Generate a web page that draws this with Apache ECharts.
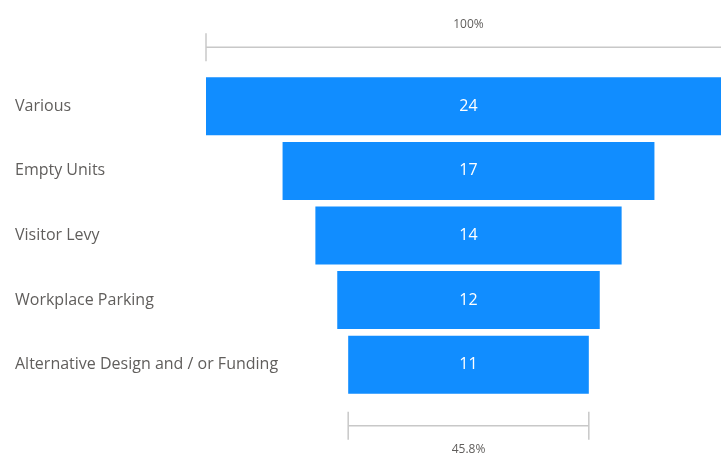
<!DOCTYPE html>
<html>
<head>
<meta charset="utf-8">
<script src="https://cdn.jsdelivr.net/npm/echarts@6/dist/echarts.min.js"></script>
<style>
  html, body { margin: 0; padding: 0; background: #fff; }
  #chart { width: 721px; height: 455px; }
</style>
</head>
<body>
<div id="chart"></div>
<script>
const categories = ['Various', 'Empty Units', 'Visitor Levy', 'Workplace Parking', 'Alternative Design and / or Funding']
const counts = [24, 17, 14, 12, 11]

const maxCount = Math.max(...counts)
const lastCount = counts[counts.length - 1]
// transparent spacer so every bar sits centred on the funnel axis
const spacer = counts.map(v => (maxCount - v) / 2)

const textColor = '#605E5C'
const lineColor = '#C8C8C8'
const font = '"Open Sans", "DejaVu Sans", sans-serif'

// the widest bar runs ~10px past the right edge of the canvas
const gridWidth = 515
const funnelWidth = 525

const chart = echarts.init(document.getElementById('chart'))

chart.setOption({
  animation: false,
  grid: {
    left: 206,
    top: 74,
    width: gridWidth,
    height: 323
  },
  xAxis: {
    type: 'value',
    min: 0,
    max: maxCount * gridWidth / funnelWidth,
    show: false
  },
  yAxis: {
    type: 'category',
    data: categories,
    inverse: true,
    axisLine: { show: false },
    axisTick: { show: false },
    splitLine: { show: false },
    axisLabel: {
      align: 'left',
      margin: 191,
      color: textColor,
      fontSize: 16,
      fontFamily: font
    }
  },
  series: [{
    type: 'bar',
    stack: 'funnel',
    data: spacer,
    barWidth: 58,
    silent: true,
    itemStyle: { color: 'transparent' }
  }, {
    type: 'bar',
    stack: 'funnel',
    data: counts,
    barWidth: 58,
    clip: false, // keep the label centred on the full (unclipped) top bar
    itemStyle: { color: '#118DFF' },
    label: {
      show: true,
      position: 'inside',
      color: '#fff',
      fontSize: 16,
      fontFamily: font
    }
  }]
})

// brackets above the first bar and below the last one, placed from the axes
function bracket(index, value, dy, textDy, text) {
  const half = (maxCount - value) / 2
  const [x1, yc] = chart.convertToPixel({ gridIndex: 0 }, [half, index])
  const [x2] = chart.convertToPixel({ gridIndex: 0 }, [half + value, index])
  const y = yc + dy
  const line = { stroke: lineColor, lineWidth: 1.5 }
  return [
    { type: 'line', shape: { x1: x1, y1: y, x2: x2, y2: y }, style: line },
    { type: 'line', shape: { x1: x1, y1: y - 14, x2: x1, y2: y + 14 }, style: line },
    { type: 'line', shape: { x1: x2, y1: y - 14, x2: x2, y2: y + 14 }, style: line },
    {
      type: 'text',
      x: (x1 + x2) / 2,
      y: y + textDy,
      style: {
        text: text,
        fill: textColor,
        font: '12px ' + font,
        align: 'center',
        verticalAlign: 'middle'
      }
    }
  ]
}

const lastPct = (lastCount / maxCount * 100).toFixed(1) + '%'

chart.setOption({
  graphic: [
    ...bracket(0, maxCount, -59, -23, '100%'),
    ...bracket(counts.length - 1, lastCount, 61, 24, lastPct)
  ]
})
</script>
</body>
</html>
